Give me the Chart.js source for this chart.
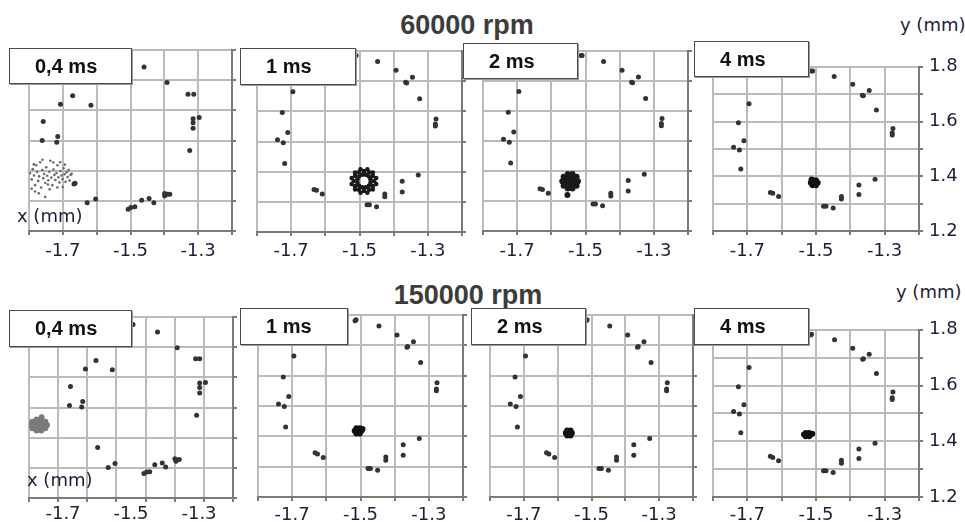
<!DOCTYPE html>
<html lang="fr">
<head>
    <meta charset="UTF-8">
    <title>Trajectoires 60000 / 150000 rpm</title>
    <style>
        body {
            margin: 0;
            background: white;
            width: 965px;
            height: 522px;
            position: relative;
            overflow: hidden;
        }
        canvas {
            position: absolute;
        }
        .title {
            position: absolute;
            font-family: "Liberation Sans", Arial, sans-serif;
            font-weight: bold;
            font-size: 27px;
            color: #3c3c3c;
            line-height: 1;
            transform: translateX(-50%);
            white-space: nowrap;
            z-index: 5;
        }
        .tag {
            position: absolute;
            background: white;
            border: 1px solid #4a4a4a;
            box-shadow: 1px 1px 0 #9a9a9a;
            box-sizing: border-box;
            font-family: "Liberation Sans", Arial, sans-serif;
            font-weight: bold;
            font-size: 20px;
            color: #111;
            padding-left: 25px;
            display: flex;
            align-items: center;
            z-index: 5;
        }
        .axlab {
            position: absolute;
            font-family: "DejaVu Sans", Verdana, sans-serif;
            font-size: 18px;
            color: #1e1e3a;
            line-height: 1;
            white-space: nowrap;
            z-index: 5;
        }
    </style>
</head>
<body>
    <div class="title" style="left:467px; top:12px;">60000 rpm</div>
    <div class="title" style="left:468px; top:282px;">150000 rpm</div>

    <div class="axlab" style="left:17px; top:207px;">x (mm)</div>
    <div class="axlab" style="left:27px; top:471px;">x (mm)</div>
    <div class="axlab" style="left:900px; top:16px;">y (mm)</div>
    <div class="axlab" style="left:896px; top:283px;">y (mm)</div>

    <script src="https://cdn.jsdelivr.net/npm/chart.js"></script>
    <script>
        // axes
        const xMin = -1.8, xMax = -1.2, yMin = 1.2, yMax = 1.8;
        const xGrid = [-1.8, -1.7, -1.6, -1.5, -1.4, -1.3, -1.2];
        const xGrid5 = [-1.8, -1.714, -1.629, -1.543, -1.457, -1.371, -1.286, -1.2]; // bottom-left panel has 7 columns
        const xTickVals = [-1.7, -1.5, -1.3];
        const xTickLabels = ["-1.7", "-1.5", "-1.3"];
        const yGrid = [1.2, 1.3, 1.4, 1.5, 1.6, 1.7, 1.8];
        const yTickLabels = ["1.2", "", "1.4", "", "1.6", "", "1.8"];

        // outer reference points, 60000 rpm, 0,4 ms
        const p1X = [-1.460, -1.392, -1.330, -1.313, -1.297, -1.315, -1.315, -1.315, -1.325, -1.671, -1.707, -1.617, -1.758, -1.761, -1.715, -1.718, -1.664, -1.667, -1.628, -1.603, -1.507, -1.499, -1.487, -1.467, -1.445, -1.431, -1.399, -1.399, -1.391, -1.384];
        const p1Y = [1.744, 1.692, 1.653, 1.653, 1.576, 1.572, 1.559, 1.541, 1.467, 1.648, 1.620, 1.617, 1.563, 1.500, 1.513, 1.494, 1.358, 1.356, 1.294, 1.306, 1.272, 1.278, 1.280, 1.302, 1.308, 1.294, 1.324, 1.317, 1.322, 1.322];
        // spindle centre, 60000 rpm, 0,4 ms (scattered)
        const c1X = [-1.797, -1.792, -1.789, -1.785, -1.782, -1.779, -1.776, -1.773, -1.770, -1.767, -1.764, -1.761, -1.758, -1.755, -1.752, -1.749, -1.746, -1.743, -1.740, -1.737, -1.734, -1.731, -1.728, -1.725, -1.722, -1.719, -1.716, -1.713, -1.710, -1.707, -1.704, -1.701, -1.698, -1.695, -1.692, -1.689, -1.686, -1.683, -1.680, -1.677, -1.674, -1.782, -1.771, -1.752, -1.739, -1.716, -1.700, -1.728, -1.760, -1.694, -1.792, -1.744, -1.708, -1.786];
        const c1Y = [1.392, 1.371, 1.405, 1.384, 1.352, 1.418, 1.396, 1.366, 1.381, 1.428, 1.344, 1.402, 1.375, 1.389, 1.359, 1.411, 1.383, 1.368, 1.396, 1.433, 1.377, 1.352, 1.404, 1.386, 1.369, 1.392, 1.418, 1.378, 1.361, 1.399, 1.384, 1.372, 1.408, 1.388, 1.363, 1.395, 1.379, 1.402, 1.367, 1.386, 1.390, 1.331, 1.325, 1.313, 1.338, 1.344, 1.346, 1.427, 1.436, 1.420, 1.340, 1.354, 1.428, 1.421];

        // outer reference points, 60000 rpm, 1 / 2 / 4 ms
        const ringTopX = [-1.513, -1.510, -1.447, -1.393, -1.365, -1.362, -1.345, -1.324, -1.276, -1.278, -1.278, -1.695, -1.726, -1.710, -1.740, -1.723, -1.719, -1.633, -1.626, -1.609, -1.478, -1.471, -1.450, -1.426, -1.426, -1.375, -1.375, -1.328];
        const ringTopY = [1.785, 1.785, 1.765, 1.736, 1.696, 1.694, 1.713, 1.642, 1.575, 1.558, 1.551, 1.665, 1.596, 1.530, 1.506, 1.496, 1.427, 1.341, 1.338, 1.326, 1.290, 1.290, 1.284, 1.326, 1.317, 1.368, 1.333, 1.389];
        // spindle centre, 1 ms (ring shaped)
        const c2X = [-1.457, -1.461, -1.472, -1.487, -1.502, -1.513, -1.517, -1.513, -1.502, -1.487, -1.472, -1.461,
                     -1.468, -1.473, -1.482, -1.492, -1.501, -1.506, -1.506, -1.501, -1.492, -1.482, -1.473, -1.468,
                     -1.451, -1.461, -1.477, -1.497, -1.513, -1.523, -1.523, -1.513, -1.497, -1.477, -1.461, -1.451];
        const c2Y = [1.369, 1.386, 1.398, 1.402, 1.398, 1.386, 1.369, 1.352, 1.340, 1.336, 1.340, 1.352,
                     1.375, 1.385, 1.390, 1.390, 1.385, 1.375, 1.363, 1.353, 1.348, 1.348, 1.353, 1.363,
                     1.379, 1.397, 1.408, 1.408, 1.397, 1.379, 1.359, 1.341, 1.330, 1.330, 1.341, 1.359];
        // 2 ms
        const c3X = [-1.545, -1.533, -1.539, -1.551, -1.557, -1.551, -1.539, -1.522, -1.526, -1.538, -1.552, -1.564, -1.568, -1.564, -1.552, -1.538, -1.526, -1.553];
        const c3Y = [1.366, 1.366, 1.377, 1.377, 1.366, 1.355, 1.355, 1.366, 1.381, 1.390, 1.390, 1.381, 1.366, 1.351, 1.342, 1.342, 1.351, 1.320];
        // 4 ms
        const c4X = [-1.505, -1.495, -1.500, -1.510, -1.515, -1.510, -1.500, -1.513];
        const c4Y = [1.376, 1.376, 1.385, 1.385, 1.376, 1.367, 1.367, 1.388];

        // outer reference points, 150000 rpm, 0,4 ms
        const p5X = [-1.494, -1.422, -1.364, -1.310, -1.298, -1.634, -1.603, -1.555, -1.678, -1.281, -1.298, -1.298, -1.298, -1.681, -1.642, -1.645, -1.307, -1.598, -1.547, -1.567, -1.462, -1.454, -1.445, -1.430, -1.408, -1.398, -1.371, -1.366, -1.358, -1.368];
        const p5Y = [1.775, 1.750, 1.698, 1.662, 1.662, 1.628, 1.656, 1.625, 1.570, 1.583, 1.581, 1.566, 1.548, 1.507, 1.520, 1.502, 1.474, 1.367, 1.314, 1.301, 1.281, 1.286, 1.287, 1.310, 1.316, 1.303, 1.330, 1.326, 1.328, 1.322];
        const c5X = [-1.771, -1.759, -1.765, -1.777, -1.783, -1.777, -1.765, -1.747, -1.752, -1.764, -1.778, -1.790, -1.795, -1.790, -1.778, -1.764, -1.752, -1.763];
        const c5Y = [1.442, 1.442, 1.451, 1.451, 1.442, 1.433, 1.433, 1.442, 1.453, 1.460, 1.460, 1.453, 1.442, 1.431, 1.424, 1.424, 1.431, 1.468];

        // outer reference points, 150000 rpm, 1 / 2 / 4 ms
        const ringBotX = [-1.513, -1.516, -1.446, -1.393, -1.364, -1.362, -1.345, -1.324, -1.276, -1.278, -1.278, -1.695, -1.726, -1.710, -1.740, -1.723, -1.719, -1.633, -1.626, -1.609, -1.478, -1.471, -1.450, -1.426, -1.426, -1.375, -1.375, -1.328];
        const ringBotY = [1.784, 1.781, 1.764, 1.734, 1.694, 1.696, 1.712, 1.643, 1.577, 1.556, 1.550, 1.665, 1.596, 1.531, 1.507, 1.498, 1.431, 1.346, 1.342, 1.330, 1.294, 1.294, 1.288, 1.332, 1.321, 1.372, 1.338, 1.393];
        const c6X = [-1.507, -1.497, -1.502, -1.512, -1.517, -1.512, -1.502, -1.494];
        const c6Y = [1.418, 1.418, 1.427, 1.427, 1.418, 1.409, 1.409, 1.424];
        const c7X = [-1.567, -1.558, -1.562, -1.572, -1.576, -1.572, -1.562];
        const c7Y = [1.411, 1.411, 1.419, 1.419, 1.411, 1.403, 1.403];
        const c8X = [-1.525, -1.515, -1.520, -1.530, -1.535, -1.530, -1.520, -1.511];
        const c8Y = [1.424, 1.424, 1.430, 1.430, 1.424, 1.418, 1.418, 1.427];

        const labels = ["0,4 ms", "1 ms", "2 ms", "4 ms", "0,4 ms", "1 ms", "2 ms", "4 ms"];

        function pts(xs, ys) {
            return xs.map((x, i) => ({ x: x, y: ys[i] }));
        }

        // area = [left, top, right, bottom] of plot area, tag = [left, top, width, height]
        const panels = [
            { area: [29, 50, 232, 231], tag: [9, 48, 123, 36], ring: pts(p1X, p1Y), core: pts(c1X, c1Y), coreColor: "#6a6a6a", coreR: 1.3, grid: xGrid, lp: 6 },
            { area: [257, 51, 462, 232], tag: [240, 48, 116, 37], ring: pts(ringTopX, ringTopY), core: pts(c2X, c2Y), coreColor: "#1a1a1a", coreR: 2.3, grid: xGrid, lp: 5 },
            { area: [483, 51, 688, 231], tag: [463, 43, 115, 36], ring: pts(ringTopX, ringTopY), core: pts(c3X, c3Y), coreColor: "#1a1a1a", coreR: 3, grid: xGrid, lp: 6 },
            { area: [713, 52, 919, 231], tag: [694, 41, 115, 36], ring: pts(ringTopX, ringTopY), core: pts(c4X, c4Y), coreColor: "#111", coreR: 3, grid: xGrid, yLabels: true, lp: 6 },
            { area: [29, 317, 233, 498], tag: [9, 310, 123, 37], ring: pts(p5X, p5Y), core: pts(c5X, c5Y), coreColor: "#7a7a7a", coreR: 3, grid: xGrid5, lp: 2 },
            { area: [258, 315, 463, 497], tag: [240, 308, 108, 37], ring: pts(ringBotX, ringBotY), core: pts(c6X, c6Y), coreColor: "#111", coreR: 3, grid: xGrid, lp: 4 },
            { area: [490, 315, 693, 497], tag: [471, 308, 115, 37], ring: pts(ringBotX, ringBotY), core: pts(c7X, c7Y), coreColor: "#111", coreR: 3, grid: xGrid, lp: 4 },
            { area: [713, 315, 919, 497], tag: [694, 308, 115, 37], ring: pts(ringBotX, ringBotY), core: pts(c8X, c8Y), coreColor: "#111", coreR: 3, grid: xGrid, yLabels: true, lp: 4 }
        ];

        const pad = 2, xgH = 4, xH = 34;
        const gridCol = "#bbbbbb", axisCol = "#7a7a7a";

        panels.forEach((p, i) => {
            const [L, T, R, B] = p.area;
            const yW = p.yLabels ? 46 : 5;
            const cv = document.createElement("canvas");
            cv.width = (R - L) + pad + yW;
            cv.height = (B - T) + pad + xgH + xH;
            cv.style.left = (L - pad) + "px";
            cv.style.top = (T - pad) + "px";
            document.body.appendChild(cv);

            const tag = document.createElement("div");
            tag.className = "tag";
            tag.textContent = labels[i];
            tag.style.left = p.tag[0] + "px";
            tag.style.top = p.tag[1] + "px";
            tag.style.width = p.tag[2] + "px";
            tag.style.height = p.tag[3] + "px";
            document.body.appendChild(tag);

            new Chart(cv, {
                type: "scatter",
                data: {
                    datasets: [
                        { data: p.ring, backgroundColor: "#333", borderWidth: 0, pointRadius: 2.5 },
                        { data: p.core, backgroundColor: p.coreColor, borderWidth: 0, pointRadius: p.coreR }
                    ]
                },
                options: {
                    responsive: false,
                    animation: false,
                    devicePixelRatio: 1,
                    layout: { autoPadding: false, padding: { left: pad, top: pad, right: 0, bottom: 0 } },
                    plugins: { legend: { display: false }, tooltip: { enabled: false } },
                    scales: {
                        xg: {
                            type: "linear", position: "bottom", weight: 0,
                            min: xMin, max: xMax,
                            afterBuildTicks: s => { s.ticks = p.grid.map(v => ({ value: v })); },
                            afterFit: s => { s.height = xgH; },
                            ticks: { display: false },
                            grid: { color: gridCol, lineWidth: 2, tickLength: 4, tickColor: axisCol },
                            border: { display: true, color: axisCol, width: 2 }
                        },
                        x: {
                            type: "linear", position: "bottom", weight: 1,
                            min: xMin, max: xMax,
                            afterBuildTicks: s => { s.ticks = xTickVals.map(v => ({ value: v })); },
                            afterFit: s => { s.height = xH; },
                            ticks: {
                                padding: p.lp,
                                maxRotation: 0,
                                autoSkip: false,
                                color: "#1e1e3a",
                                font: { family: "DejaVu Sans", size: 18 },
                                callback: (v, idx) => xTickLabels[idx]
                            },
                            grid: { display: false, drawTicks: false },
                            border: { display: false }
                        },
                        y: {
                            type: "linear", position: "right",
                            min: yMin, max: yMax,
                            afterBuildTicks: s => { s.ticks = yGrid.map(v => ({ value: v })); },
                            afterFit: s => { s.width = yW; },
                            ticks: {
                                display: !!p.yLabels,
                                padding: 6,
                                color: "#1e1e3a",
                                font: { family: "DejaVu Sans", size: 18 },
                                callback: (v, idx) => yTickLabels[idx]
                            },
                            grid: { color: gridCol, lineWidth: 2, tickLength: 4, tickColor: axisCol },
                            border: { display: true, color: axisCol, width: 2 }
                        }
                    }
                }
            });
        });
    </script>
</body>
</html>
